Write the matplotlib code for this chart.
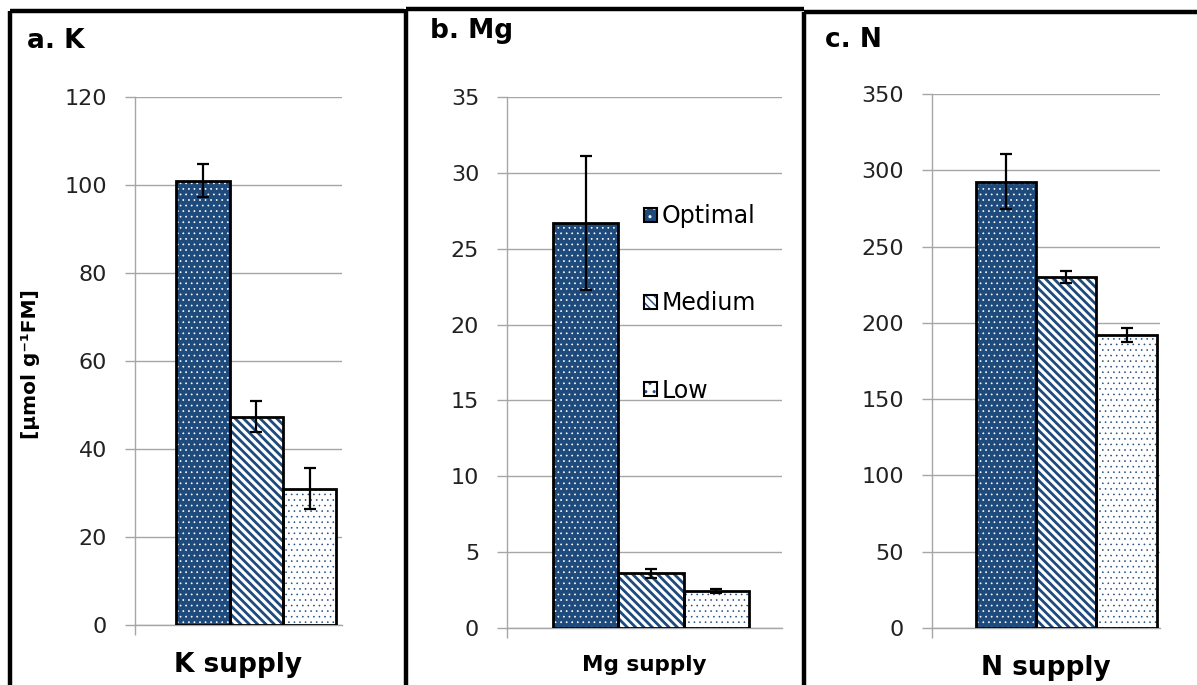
import matplotlib
matplotlib.use("Agg")
import matplotlib.pyplot as plt
from matplotlib.patches import Patch
from matplotlib.lines import Line2D
from matplotlib.colors import to_rgba

# ---- data ----
levels = ["Optimal", "Medium", "Low"]
k_vals = [101.0, 47.3, 31.0]
k_err = [3.7, 3.5, 4.6]
mg_vals = [26.7, 3.6, 2.45]
mg_err = [4.4, 0.3, 0.12]
n_vals = [292.5, 230.0, 192.0]
n_err = [18.0, 4.0, 4.5]
k_ticks = [0, 20, 40, 60, 80, 100, 120]
mg_ticks = [0, 5, 10, 15, 20, 25, 30, 35]
n_ticks = [0, 50, 100, 150, 200, 250, 300, 350]
titles = ["a. K", "b. Mg", "c. N"]
xlabels = ["K supply", "Mg supply", "N supply"]
ylabel = "[µmol g⁻¹FM]"

BLUE = "#1F4A7C"
GRID = "#A6A6A6"
styles = [
    dict(face=BLUE, hatch="...", hcolor="white", hlw=0.5),
    dict(face="white", hatch="\\\\\\\\", hcolor=BLUE, hlw=2.0),
    dict(face="white", hatch="...", hcolor=BLUE, hlw=0.4),
]

W, H = 1197, 685
fig = plt.figure(figsize=(W / 100, H / 100), dpi=100)
plt.rcParams["font.family"] = ["DejaVu Sans"]


def style_patch(p, st):
    p._hatch_color = to_rgba(st["hcolor"])
    if hasattr(p, "set_hatch_linewidth"):
        p.set_hatch_linewidth(st["hlw"])
    else:
        p._hatch_linewidth = st["hlw"]


def panel(rect_px, vals, errs, ticks, xlim, xlabel, xlabel_size, legend=False):
    l, r, t, b = rect_px
    ax = fig.add_axes([l / W, (H - b) / H, (r - l) / W, (b - t) / H])
    xs = list(range(len(vals)))
    for i, (x, v) in enumerate(zip(xs, vals)):
        st = styles[i]
        bars = ax.bar([x], [v], width=1.0, color=st["face"], hatch=st["hatch"],
                      edgecolor=st["hcolor"], linewidth=0, zorder=2)
        for p in bars:
            style_patch(p, st)
        ax.bar([x], [v], width=1.0, fill=False, edgecolor="black",
               linewidth=2.0, zorder=3)
    ax.errorbar(xs, vals, yerr=errs, fmt="none", ecolor="black",
                elinewidth=1.6, capsize=4.5, capthick=1.6, zorder=4)
    ax.set_xlim(*xlim)
    ax.set_ylim(ticks[0], ticks[-1])
    ax.set_yticks(ticks)
    ax.set_yticklabels([str(v) for v in ticks])
    ax.yaxis.grid(True, color=GRID, linewidth=1.0, zorder=0)
    ax.set_axisbelow(True)
    ax.set_xticks([xlim[0]])
    ax.set_xticklabels([""])
    for s in ["top", "right"]:
        ax.spines[s].set_visible(False)
    for s in ["left", "bottom"]:
        ax.spines[s].set_color(GRID)
        ax.spines[s].set_linewidth(1.0)
    ax.tick_params(axis="y", direction="out", length=7, width=1.0,
                   color=GRID, labelsize=16, labelcolor="#222222", pad=13)
    ax.tick_params(axis="x", direction="out", length=7, width=1.0, color=GRID)
    ax.set_xlabel(xlabel, fontsize=xlabel_size, fontweight="bold", labelpad=9)
    if legend:
        handles = []
        for i, lab in enumerate(levels):
            st = styles[i]
            hp = Patch(facecolor=st["face"], hatch=st["hatch"].replace("...", ".."),
                       edgecolor="black", linewidth=1.5, label=lab)
            hp._hatch_color = to_rgba(st["hcolor"])
            handles.append(hp)
        ax.legend(handles=handles, loc="upper left",
                  bbox_to_anchor=((644 - l) / (r - l), (b - 204) / (b - t)),
                  frameon=False, fontsize=17, handlelength=0.55,
                  handleheight=0.55, handletextpad=0.2, labelspacing=2.68,
                  borderaxespad=0, borderpad=0)
    return ax


panel((135, 342, 97, 625), k_vals, k_err, k_ticks, (-1.276, 2.61),
      xlabels[0], 19)
panel((507, 782, 97, 628), mg_vals, mg_err, mg_ticks, (-1.215, 3.015),
      xlabels[1], 15.5, legend=True)
panel((932, 1160, 94, 628), n_vals, n_err, n_ticks, (-1.22, 2.55),
      xlabels[2], 19)

# panel frames
def fline(xs, ys):
    fig.add_artist(Line2D([x / W for x in xs], [1 - y / H for y in ys],
                          color="black", linewidth=3.2, solid_capstyle="butt"))

fline([10, 10], [10.5, 685])
fline([10, 404], [10.5, 10.5])
fline([406, 406], [8.5, 685])
fline([406, 804], [8.5, 8.5])
fline([804, 804], [11.5, 685])
fline([804, 1197], [11.5, 11.5])

fig.text(27 / W, 1 - 41 / H, titles[0], fontsize=19, fontweight="bold",
         va="center", ha="left")
fig.text(430 / W, 1 - 31 / H, titles[1], fontsize=19, fontweight="bold",
         va="center", ha="left")
fig.text(825 / W, 1 - 40 / H, titles[2], fontsize=19, fontweight="bold",
         va="center", ha="left")
fig.text(31 / W, 1 - 364 / H, ylabel, rotation=90, fontsize=14.5,
         fontweight="bold", va="center", ha="center")

fig.savefig("out.png", dpi=100)
